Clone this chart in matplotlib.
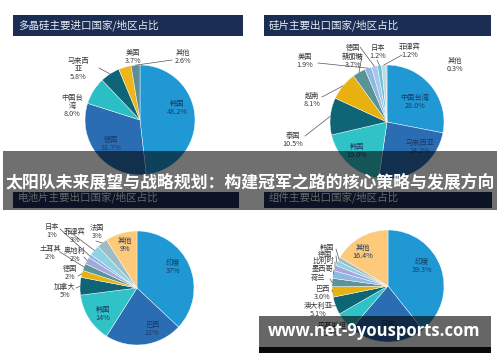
import numpy as np
import matplotlib.pyplot as plt
from matplotlib.patches import Rectangle

plt.rcParams['font.family'] = ['Noto Sans CJK SC', 'DejaVu Sans']

# ---- data ----
poly_names = ['韩国', '德国', '中国台\n湾', '马来西\n亚', '美国', '其他']
poly_values = [48.2, 31.7, 8.0, 5.8, 3.7, 2.6]
poly_colors = ['#1f98d3', '#2b6db3', '#2bbfc5', '#0d6575', '#f0b41c', '#5e8f94']

wafer_names = ['中国台湾', '马来西亚', '韩国', '泰国', '越南', '新加坡', '美国', '德国', '日本', '菲律宾', '其他']
wafer_values = [28.0, 24.2, 19.0, 10.5, 8.1, 3.7, 1.9, 1.7, 1.2, 1.2, 0.3]
wafer_colors = ['#1f98d3', '#2b6db3', '#2fc2c7', '#0d6575', '#e9b10f', '#5a9497',
                '#8fb8e3', '#a9c7ea', '#6fc3d9', '#b9dbe3', '#9dbcc4']

cell_names = ['印度', '巴西', '韩国', '加拿大', '德国', '土耳其', '奥地利', '日本', '菲律宾', '法国', '其他']
cell_values = [37, 22, 14, 5, 2, 2, 2, 1, 3, 3, 9]
cell_colors = ['#1f98d3', '#2b6db3', '#2fc2c7', '#0d6575', '#e9b10f', '#5a9497',
               '#a5a8dc', '#8fb8e3', '#8fd3e2', '#9dbcc4', '#fdc97a']

module_names = ['印度', '日本', '巴基斯坦', '澳大利亚', '巴西', '荷兰', '墨西哥', '比利时', '德国', '韩国', '其他']
module_values = [39.3, 22.0, 5.4, 5.1, 3.0, 2.4, 2.2, 1.6, 1.4, 1.2, 16.4]
module_colors = ['#1f98d3', '#2b6db3', '#2fc2c7', '#0d6575', '#e9b10f', '#5a9497',
                 '#8fb8e3', '#a5a8dc', '#8fd3e2', '#9dbcc4', '#fdc97a']

titles = ['多晶硅主要进口国家/地区占比', '硅片主要出口国家/地区占比',
          '电池片主要出口国家/地区占比', '组件主要出口国家/地区占比']
banner = '太阳队未来展望与战略规划：构建冠军之路的核心策略与发展方向'
watermark = 'www.net-9yousports.com'

W, H = 500, 362
fig = plt.figure(figsize=(W / 100, H / 100), dpi=100)
ax = fig.add_axes([0, 0, 1, 1])
fig.patch.set_facecolor('white')

INNER = '#1d3a66'
OUTER = '#3a3a3a'


def draw_pie(values, names, colors, center, radius, pos, leaders, inner, fmt, nopct=()):
    wedges, _ = ax.pie(values, colors=colors, startangle=-90, counterclock=True,
                       center=center, radius=radius, frame=True,
                       wedgeprops=dict(linewidth=0.3, edgecolor='white'))
    for i, w in enumerate(wedges):
        s = names[i] if i in nopct else names[i] + '\n' + fmt.format(values[i])
        ax.text(pos[i][0], pos[i][1], s, ha='center', va='center', fontsize=5.2,
                color=INNER if i in inner else OUTER, linespacing=1.05, zorder=5)
        if leaders[i] is not None:
            mid = np.deg2rad((w.theta1 + w.theta2) / 2)
            ex = center[0] + radius * np.cos(mid)
            ey = center[1] + radius * np.sin(mid)
            ax.plot([leaders[i][0], ex], [leaders[i][1], ey], color='#555555',
                    lw=0.5, zorder=4)


# panel 1
draw_pie(poly_values, poly_names, poly_colors, (140, 120), 55,
         [(177, 108), (111, 144), (72, 106), (78, 69), (133, 57), (183, 57)],
         [None, None, None, (99, 68), None, (172, 60)], [0, 1], '{:.1f}%')
# panel 2
draw_pie(wafer_values, wafer_names, wafer_colors, (387, 122), 57,
         [(415, 102), (420, 147), (357, 151), (293, 140), (312, 100), (353, 61),
          (305, 61), (353, 52), (378, 52), (410, 51), (455, 65)],
         [None, None, None, (305, 136), (322, 97), (362, 56), (318, 63),
          (360, 47), (377, 60), (402, 55), None], [0, 1, 2], '{:.1f}%')
# panel 3
draw_pie(cell_values, cell_names, cell_colors, (137, 288), 57,
         [(173, 267), (152, 329), (103, 314), (65, 291), (70, 273), (50, 253),
          (75, 255), (52, 231), (75, 236), (97, 232), (125, 245)],
         [None, None, None, (76, 288), (78, 276), (60, 252), (84, 257),
          (60, 229), (66, 229), (96, 241), None], [0, 1, 2, 10], '{:.0f}%')
# panel 4
draw_pie(module_values, module_names, module_colors, (388, 286), 56,
         [(422, 266), (388, 328), (332, 330), (318, 310), (322, 293), (318, 278),
          (322, 269), (323, 261), (325, 255), (327, 248), (363, 252)],
         [None, None, None, (330, 306), (332, 290), (330, 279), (334, 270),
          (335, 262), (336, 256), (336, 249), None], [0, 1, 10], '{:.1f}%',
         nopct=(5, 6, 7, 8, 9))

# title bars
bars = [(13, 15, 230, 21), (264, 15, 227, 21), (13, 192, 226, 16), (264, 192, 228, 16)]
title_y = [25, 25, 197, 197]
for (x, y, w, h), t, ty in zip(bars, titles, title_y):
    ax.add_patch(Rectangle((x, y), w, h, facecolor='#1b2d52', edgecolor='none', zorder=3))
    ax.text(x + 5, ty, t, ha='left', va='center', fontsize=7.6, color='#e6ecf4', zorder=6)

# banner overlay
ax.add_patch(Rectangle((3, 151), 494, 59, facecolor='black', alpha=0.56,
                       edgecolor='none', zorder=10))
ax.text(250, 183, banner, ha='center', va='center', fontsize=12.2, fontweight='bold',
        color='white', zorder=11)

# watermark
ax.add_patch(Rectangle((259, 316), 232, 31, facecolor='black', alpha=0.6,
                       edgecolor='none', zorder=10))
ax.add_patch(Rectangle((259, 347), 232, 6, facecolor='#0a0a0a', edgecolor='none', zorder=10))
ax.text(374, 331, watermark, ha='center', va='center', fontsize=12, fontweight='bold',
        family=['Open Sans', 'DejaVu Sans'], color='white', zorder=11)

ax.set_aspect('equal')
ax.set_xlim(0, W)
ax.set_ylim(H, 0)
ax.axis('off')

fig.savefig('out.png', dpi=100, facecolor='white')
